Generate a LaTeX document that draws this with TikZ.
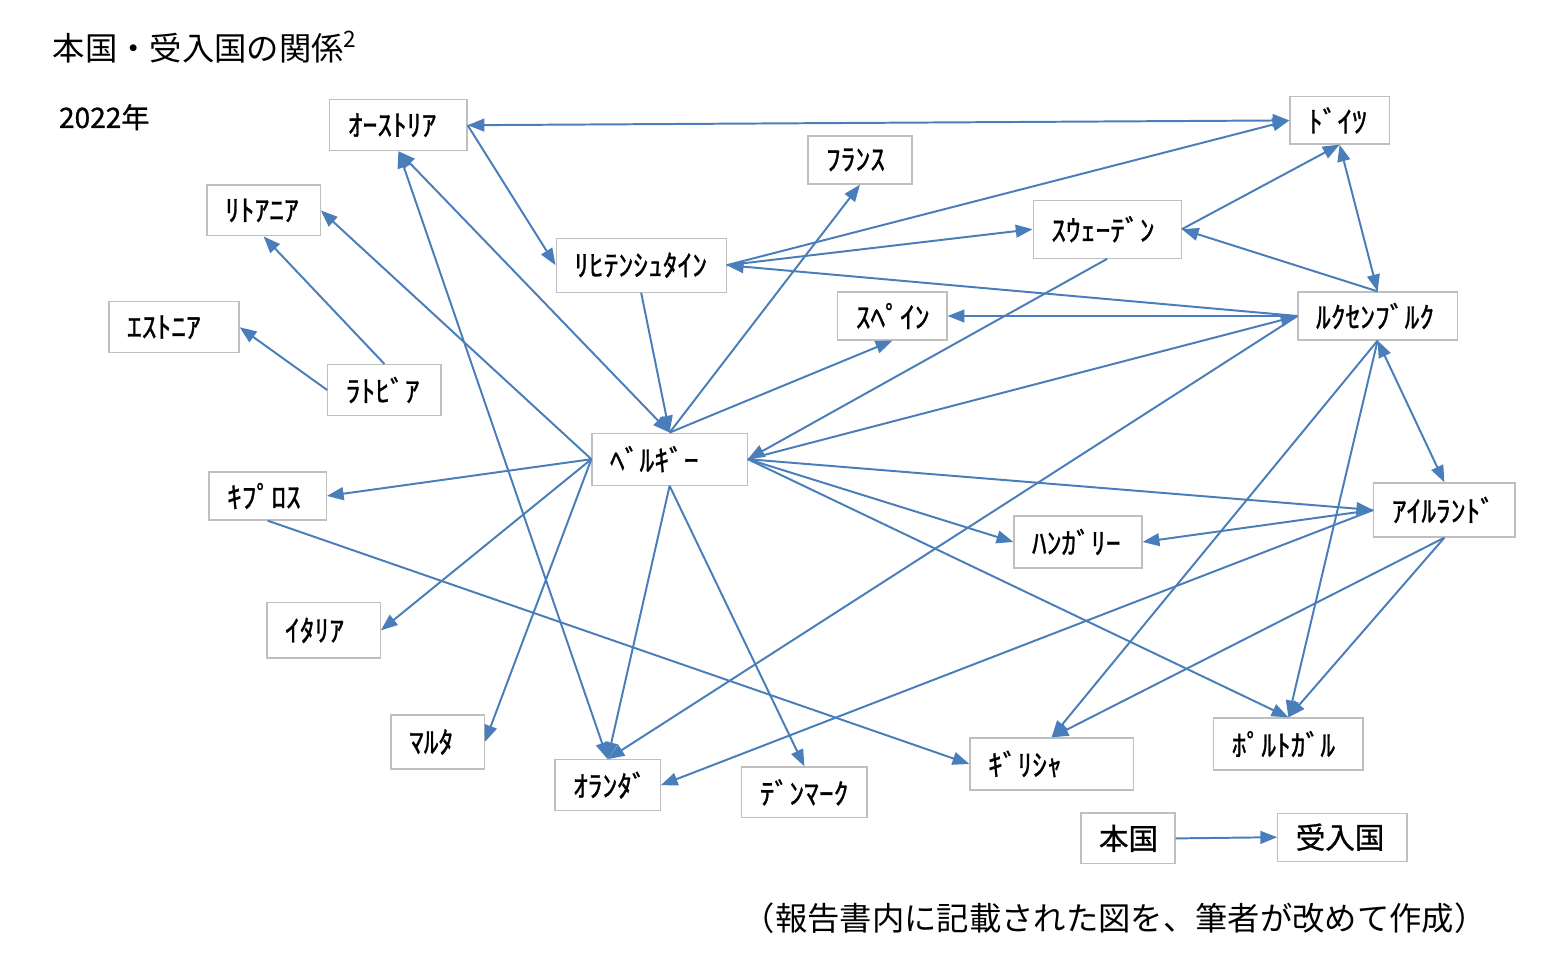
\documentclass[tikz,border=0pt]{standalone}
\usepackage{fontspec}
\setmainfont{Noto Sans CJK JP}
\newfontfamily\labelfont[FakeBold=0.9]{Noto Sans CJK JP}
\usepackage{tikz}
\usepackage{xcolor}
\usetikzlibrary{arrows.meta, positioning}
\definecolor{linkblue}{RGB}{74,126,187}
\definecolor{boxgray}{RGB}{191,191,191}

\begin{document}
\begin{tikzpicture}[
    cbox/.style={draw=boxgray, line width=0.9pt, fill=white, inner xsep=0.45cm, inner ysep=0pt,
        minimum height=1.27cm, align=left, font=\labelfont\fontsize{21}{24}\selectfont},
    link/.style={linkblue, line width=1.4pt, -{Triangle[length=0.42cm, width=0.32cm]}},
    bilink/.style={linkblue, line width=1.4pt, {Triangle[length=0.42cm, width=0.32cm]}-{Triangle[length=0.42cm, width=0.32cm]}}
]
    \useasboundingbox (0,0) rectangle (39.1,-24.45);

    % Headings
    \node[anchor=west, font=\fontsize{23}{26}\selectfont] (title) at (1.2,-1.18) {本国・受入国の関係\textsuperscript{2}};
    \node[anchor=west, font=\labelfont\fontsize{20}{23}\selectfont] (year) at (1.35,-2.93) {2022年};

    % Countries
    \node[cbox, text width=2.53cm] (aut) at (9.96,-3.13) {ｵｰｽﾄﾘｱ};
    \node[cbox, text width=1.58cm, minimum height=1.18cm] (deu) at (33.49,-3.01) {ﾄﾞｲﾂ};
    \node[cbox, text width=1.70cm, minimum height=1.2cm] (fra) at (21.5,-4.0) {ﾌﾗﾝｽ};
    \node[cbox, text width=1.93cm] (ltu) at (6.59,-5.26) {ﾘﾄｱﾆｱ};
    \node[cbox, text width=2.80cm, minimum height=1.45cm] (swe) at (27.68,-5.73) {ｽｳｪｰﾃﾞﾝ};
    \node[cbox, text width=3.35cm, minimum height=1.35cm] (lie) at (16.03,-6.63) {ﾘﾋﾃﾝｼｭﾀｲﾝ};
    \node[cbox, text width=2.35cm] (est) at (4.35,-8.18) {ｴｽﾄﾆｱ};
    \node[cbox, text width=1.83cm, minimum height=1.2cm] (esp) at (22.31,-7.9) {ｽﾍﾟｲﾝ};
    \node[cbox, text width=3.08cm, minimum height=1.2cm] (lux) at (34.44,-7.9) {ﾙｸｾﾝﾌﾞﾙｸ};
    \node[cbox, text width=1.93cm] (lva) at (9.61,-9.75) {ﾗﾄﾋﾞｱ};
    \node[cbox, text width=2.98cm, minimum height=1.3cm] (bel) at (16.74,-11.48) {ﾍﾞﾙｷﾞｰ};
    \node[cbox, text width=2.03cm, minimum height=1.2cm] (cyp) at (6.69,-12.4) {ｷﾌﾟﾛｽ};
    \node[cbox, text width=2.63cm, minimum height=1.35cm] (irl) at (36.11,-12.75) {ｱｲﾙﾗﾝﾄﾞ};
    \node[cbox, text width=2.30cm, minimum height=1.3cm] (hun) at (26.95,-13.55) {ﾊﾝｶﾞﾘｰ};
    \node[cbox, text width=1.93cm, minimum height=1.38cm] (ita) at (8.09,-15.76) {ｲﾀﾘｱ};
    \node[cbox, text width=2.83cm, minimum height=1.3cm] (prt) at (32.21,-18.6) {ﾎﾟﾙﾄｶﾞﾙ};
    \node[cbox, text width=1.43cm, minimum height=1.35cm] (mlt) at (10.94,-18.55) {ﾏﾙﾀ};
    \node[cbox, text width=3.18cm, minimum height=1.3cm] (grc) at (26.29,-19.1) {ｷﾞﾘｼｬ};
    \node[cbox, text width=1.73cm] (nld) at (15.19,-19.63) {ｵﾗﾝﾀﾞ};
    \node[cbox, text width=2.23cm] (dnk) at (20.11,-19.81) {ﾃﾞﾝﾏｰｸ};

    % Legend
    \node[cbox, text width=1.45cm] (home) at (28.2,-20.96) {本国};
    \node[cbox, text width=2.33cm, minimum height=1.2cm] (host) at (33.56,-20.93) {受入国};

    % Source note
    \node[anchor=west, font=\fontsize{23}{26}\selectfont] (note) at (18.45,-22.95) {（報告書内に記載された図を、筆者が改めて作成）};

    % Links
    \draw[bilink] (aut.east) -- (deu.west);
    \draw[link] (aut.east) -- (lie.west);
    \draw[bilink] (bel.north) -- (aut.south);
    \draw[bilink] (nld.north) -- (aut.south);
    \draw[link] (lie.south) -- (bel.north);
    \draw[link] (bel.north) -- (fra.south);
    \draw[link] (bel.north) -- (esp.south);
    \draw[link] (lie.east) -- (deu.west);
    \draw[link] (lie.east) -- (swe.west);
    \draw[link] (lux.west) -- (lie.east);
    \draw[link] (lux.west) -- (esp.east);
    \draw[link] (lux.west) -- (nld.north);
    \draw[link] (swe.east) -- (deu.south);
    \draw[bilink] (deu.south) -- (lux.north);
    \draw[link] (lux.north) -- (swe.east);
    \draw[link] (swe.south) -- (bel.east);
    \draw[link] (bel.east) -- (lux.west);
    \draw[link] (bel.west) -- (ltu.east);
    \draw[link] (lva.north) -- (ltu.south);
    \draw[link] (lva.west) -- (est.east);
    \draw[link] (bel.west) -- (cyp.east);
    \draw[link] (bel.west) -- (ita.east);
    \draw[link] (bel.west) -- (mlt.east);
    \draw[link] (bel.south) -- (nld.north);
    \draw[link] (bel.south) -- (dnk.north);
    \draw[link] (bel.east) -- (hun.west);
    \draw[link] (bel.east) -- (irl.west);
    \draw[link] (bel.east) -- (prt.north);
    \draw[link] (cyp.south) -- (grc.west);
    \draw[link] (irl.west) -- (hun.east);
    \draw[link] (irl.west) -- (nld.east);
    \draw[link] (irl.south) -- (grc.north);
    \draw[link] (irl.south) -- (prt.north);
    \draw[link] (lux.south) -- (grc.north);
    \draw[link] (lux.south) -- (prt.north);
    \draw[bilink] (lux.south) -- (irl.north);
    \draw[link] (home.east) -- (host.west);
\end{tikzpicture}
\end{document}
